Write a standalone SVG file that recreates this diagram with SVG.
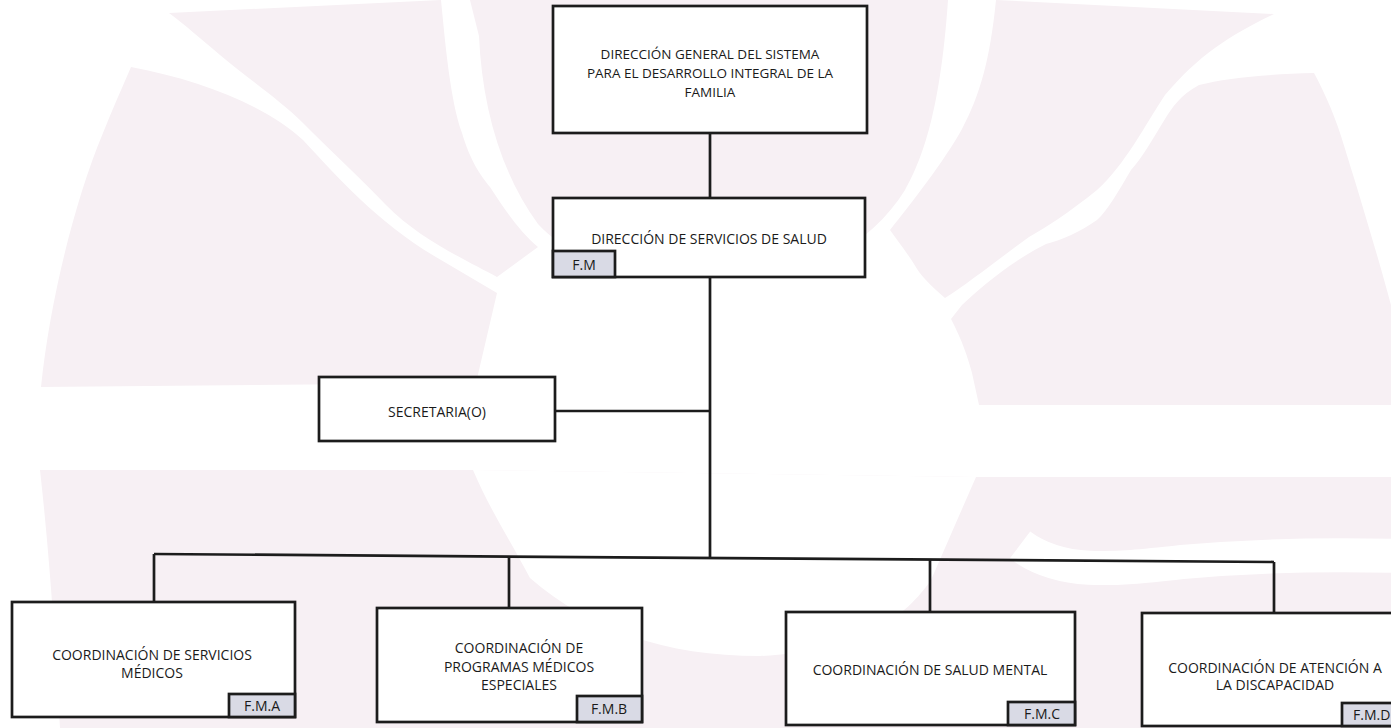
<svg xmlns="http://www.w3.org/2000/svg" width="1391" height="728" viewBox="0 0 1391 728">
<style>
.bg{fill:#f7f0f4;stroke:none}
.wh{fill:#ffffff;stroke:none}
.box{fill:#ffffff;stroke:#1c1c1c;stroke-width:2.7}
.tag{fill:#d9dae5;stroke:#1c1c1c;stroke-width:2.7}
.t{font-family:"Open Sans","Liberation Sans",sans-serif;font-size:14px;fill:#1a1a1a;text-anchor:middle}
.s{font-size:13.5px}
.conn{fill:none;stroke:#1c1c1c;stroke-width:2.7}
</style>
<rect width="1391" height="728" fill="#ffffff"/>
<g id="watermark">
<path class="bg" d="M131,67 C200,80 265,105 303,140 C340,180 380,225 441,260 L497,293 L476,383 L41,387 C50,300 75,200 103,133 C112,110 122,88 131,67 Z"/>
<path class="bg" d="M169,13 L441,0 C445,40 450,100 462,133 C470,160 480,175 490,187 C505,210 520,232 538,247 L497,277 C470,262 420,240 386,205 C360,178 330,150 303,123 C280,100 250,80 220,55 C200,38 185,25 169,13 Z"/>
<path class="bg" d="M479,36 C482,105 500,172 538,224 C560,248 595,265 630,272 L790,272 C840,260 880,230 905,190 C925,155 941,102 948,0 L470,0 Z"/>
<path class="bg" d="M996,0 L1274,14 C1230,35 1199,55 1165,95 C1145,125 1125,165 1097,190 C1070,212 1045,228 1029,237 C1000,258 970,282 945,298 C930,285 920,275 914,264 C905,250 897,240 890,230 C910,205 945,160 962,129 C980,95 990,60 996,0 Z"/>
<path class="bg" d="M1314,73 C1270,74 1225,78 1199,85 C1180,95 1172,108 1165,119 C1152,140 1142,158 1131,170 C1118,192 1108,210 1097,220 C1080,232 1062,240 1046,244 C1010,262 980,288 962,305 L951,319 C962,340 968,358 972,373 L979,405 L1391,405 L1391,305 C1382,271 1362,203 1341,136 C1332,108 1322,88 1314,73 Z"/>
<path class="bg" d="M40,470 L473,470 L976,477 L1391,477 L1391,728 L60,728 C55,640 50,560 40,470 Z"/>
<path class="wh" d="M473,470 L976,477 L931,580 C900,625 850,652 760,656 C665,656 590,630 530,578 C510,540 490,510 473,470 Z"/>
<path fill="none" stroke="#ffffff" stroke-width="34" d="M1020,545 C1060,575 1110,570 1182,562 C1260,555 1330,554 1400,556"/>
</g>
<g id="connectors">
<line class="conn" x1="710" y1="133" x2="710" y2="198"/>
<line class="conn" x1="710" y1="277" x2="710" y2="558"/>
<line class="conn" x1="555" y1="411" x2="710" y2="411"/>
<line class="conn" x1="154" y1="554" x2="1274" y2="562"/>
<line class="conn" x1="154" y1="554" x2="154" y2="602"/>
<line class="conn" x1="509" y1="556.5" x2="509" y2="608"/>
<line class="conn" x1="930" y1="559.5" x2="930" y2="612"/>
<line class="conn" x1="1274" y1="562" x2="1274" y2="613"/>
</g>
<g id="node-dif">
<rect class="box" x="553" y="6" width="314" height="127"/>
<text class="t s" x="710" y="59">DIRECCIÓN GENERAL DEL SISTEMA</text>
<text class="t s" x="710" y="78">PARA EL DESARROLLO INTEGRAL DE LA</text>
<text class="t s" x="710" y="97">FAMILIA</text>
</g>
<g id="node-salud">
<rect class="box" x="553" y="198" width="312" height="79"/>
<text class="t" x="709" y="244">DIRECCIÓN DE SERVICIOS DE SALUD</text>
<rect class="tag" x="553" y="251" width="62" height="26"/>
<text class="t" x="584" y="269.5">F.M</text>
</g>
<g id="node-secretaria">
<rect class="box" x="319" y="377" width="236" height="64"/>
<text class="t" x="437" y="416.5">SECRETARIA(O)</text>
</g>
<g id="node-fma">
<rect class="box" x="12" y="602" width="283" height="115"/>
<text class="t" x="152" y="660">COORDINACIÓN DE SERVICIOS</text>
<text class="t" x="152" y="678">MÉDICOS</text>
<rect class="tag" x="229" y="694" width="66" height="23"/>
<text class="t" x="262" y="711">F.M.A</text>
</g>
<g id="node-fmb">
<rect class="box" x="377" y="608" width="265" height="114"/>
<text class="t" x="519" y="653">COORDINACIÓN DE</text>
<text class="t" x="519" y="671.5">PROGRAMAS MÉDICOS</text>
<text class="t" x="519" y="690">ESPECIALES</text>
<rect class="tag" x="577" y="696" width="65" height="26"/>
<text class="t" x="609" y="714">F.M.B</text>
</g>
<g id="node-fmc">
<rect class="box" x="786" y="612" width="289" height="113"/>
<text class="t" x="930" y="675">COORDINACIÓN DE SALUD MENTAL</text>
<rect class="tag" x="1008" y="702" width="67" height="23"/>
<text class="t" x="1042" y="719">F.M.C</text>
</g>
<g id="node-fmd">
<rect class="box" x="1142" y="613" width="262" height="113"/>
<text class="t" x="1275" y="673">COORDINACIÓN DE ATENCIÓN A</text>
<text class="t" x="1275" y="690">LA DISCAPACIDAD</text>
<rect class="tag" x="1342" y="703" width="62" height="23"/>
<text class="t" x="1353" y="720" style="text-anchor:start">F.M.D</text>
</g>
</svg>
